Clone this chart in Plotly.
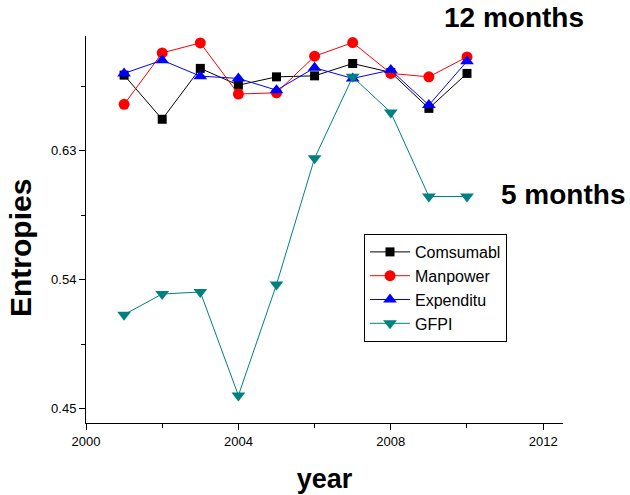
import plotly.graph_objects as go

years = [2001, 2002, 2003, 2004, 2005, 2006, 2007, 2008, 2009, 2010]
comsumabl = [0.6827, 0.6519, 0.6874, 0.6757, 0.6815, 0.6822, 0.6908, 0.6846, 0.6595, 0.6839]
manpower = [0.6623, 0.6982, 0.7052, 0.6695, 0.6704, 0.6959, 0.7054, 0.6839, 0.6815, 0.6954]
expenditu = [0.6839, 0.6931, 0.6820, 0.6804, 0.6722, 0.6878, 0.6804, 0.6862, 0.6618, 0.6924]
gfpi = [0.5156, 0.5300, 0.5314, 0.4592, 0.5366, 0.6247, 0.6815, 0.6567, 0.5980, 0.5980]

x_ticks = [2000, 2004, 2008, 2012]
y_ticks = [0.45, 0.54, 0.63]

FONT = "Liberation Sans, Arial, sans-serif"

L, R, T, B = 86, 67, 36, 72
W, H = 630, 495
pw, ph = W - L - R, H - T - B


def paper(xp, yp):
    return (xp - L) / pw, (H - B - yp) / ph


fig = go.Figure()
series = [
    ("Comsumabl", comsumabl, "#000000", "square", 9),
    ("Manpower", manpower, "#FF0000", "circle", 11),
    ("Expenditu", expenditu, "#0000FF", "triangle-up", 12),
    ("GFPI", gfpi, "#008080", "triangle-down", 12),
]
for name, vals, col, sym, sz in series:
    fig.add_trace(go.Scatter(
        x=years, y=vals, name=name, mode="lines+markers",
        line=dict(color=col, width=1),
        marker=dict(symbol=sym, size=sz, color=col),
    ))

lx, ly = paper(364, 234)
fig.update_layout(
    width=W, height=H,
    margin=dict(l=L, r=R, t=T, b=B),
    plot_bgcolor="white", paper_bgcolor="white",
    font=dict(family=FONT, color="black", size=13),
    showlegend=True,
    legend=dict(
        x=lx, y=ly, xanchor="left", yanchor="top",
        bordercolor="black", borderwidth=1, bgcolor="white",
        font=dict(family=FONT, size=16, color="black"),
        tracegroupgap=0, itemwidth=40,
    ),
    xaxis=dict(
        range=[2000, 2012.52], tickmode="array", tickvals=x_ticks,
        ticktext=[str(v) for v in x_ticks], automargin=False,
        showgrid=False, zeroline=False, showline=True, linecolor="black", linewidth=1,
        ticks="outside", ticklen=6, tickcolor="black",
        minor=dict(tickvals=[2002, 2006, 2010], ticks="outside", ticklen=4, tickcolor="black"),
        tickfont=dict(size=13),
        title=dict(text="<b>year</b>", font=dict(size=27), standoff=21),
    ),
    yaxis=dict(
        range=[0.44, 0.71], tickmode="array", tickvals=y_ticks,
        ticktext=[f"{v:.2f}" for v in y_ticks], automargin=False,
        showgrid=False, zeroline=False, showline=True, linecolor="black", linewidth=1,
        ticks="outside", ticklen=6, tickcolor="black",
        minor=dict(tickvals=[0.495, 0.585, 0.675], ticks="outside", ticklen=4, tickcolor="black"),
        tickfont=dict(size=13),
    ),
)
ey = paper(20, 248)
fig.add_annotation(text="<b>Entropies</b>", x=ey[0], y=ey[1], xref="paper", yref="paper",
                   showarrow=False, font=dict(size=30), textangle=-90,
                   xanchor="center", yanchor="middle")
a1 = paper(586, 18)
a2 = paper(627, 194)
fig.add_annotation(text="<b>12 months</b>", x=a1[0], y=a1[1], xref="paper", yref="paper",
                   showarrow=False, font=dict(size=28), xanchor="right", yanchor="middle")
fig.add_annotation(text="<b>5 months</b>", x=a2[0], y=a2[1], xref="paper", yref="paper",
                   showarrow=False, font=dict(size=28), xanchor="right", yanchor="middle")

fig.write_html("out.html", config={"displayModeBar": False},
               post_script="document.body.style.margin='0';document.body.style.padding='0';")
